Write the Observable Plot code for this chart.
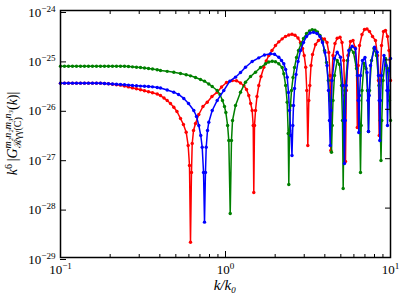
<!DOCTYPE html>
<html><head><meta charset="utf-8">
<script src="https://cdn.jsdelivr.net/npm/d3@7"></script>
<script src="https://cdn.jsdelivr.net/npm/@observablehq/plot@0.6"></script>
<style>html,body{margin:0;padding:0;background:#fff;}#chart{width:403px;height:297px;}</style>
</head><body><div id="chart"></div>
<script>
// [k/k0, k^6 |G|]
const red = [
[0.1,3.38e-26],[0.1057,3.38e-26],[0.1118,3.38e-26],[0.1182,3.38e-26],[0.125,3.38e-26],[0.1322,3.38e-26],[0.1397,3.38e-26],[0.1477,3.38e-26],[0.1562,3.38e-26],[0.1652,3.38e-26],[0.1747,3.38e-26],[0.1847,3.33e-26],[0.1953,3.28e-26],[0.2065,3.22e-26],[0.2184,3.15e-26],[0.231,3.08e-26],[0.2442,2.97e-26],[0.2582,2.84e-26],[0.2731,2.71e-26],[0.2888,2.60e-26],[0.3054,2.48e-26],
[0.3229,2.37e-26],[0.3415,2.26e-26],[0.3611,2.16e-26],[0.3856,2.04e-26],[0.4037,1.90e-26],[0.424,1.69e-26],[0.4432,1.51e-26],[0.464,1.31e-26],[0.4861,1.10e-26],[0.508,9.02e-27],[0.5337,6.52e-27],[0.556,4.92e-27],[0.5777,3.44e-27],[0.594,1.85e-27],[0.605,7.28e-28],[0.6136,2.04e-29],[0.622,5.26e-28],[0.6284,2.03e-27],[0.64,3.72e-27],[0.658,5.16e-27],[0.689,7.85e-27],[0.73,1.14e-26],[0.775,1.39e-26],[0.828,1.82e-26],[0.891,2.22e-26],[0.946,2.82e-26],[1.014,3.49e-26],[1.098,3.83e-26],[1.166,3.78e-26],[1.233,3.41e-26],[1.291,3.03e-26],[1.341,2.52e-26],[1.384,1.90e-26],[1.421,1.31e-26],[1.451,9.46e-27],[1.472,4.70e-27],[1.484,2.07e-28],[1.499,4.70e-27],[1.52,9.46e-27],[1.552,1.82e-26],[1.591,3.03e-26],[1.641,4.61e-26],[1.707,7.11e-26],[1.765,9.51e-26],[1.83,1.23e-25],[1.913,1.55e-25],[2.009,1.95e-25],[2.104,2.32e-25],[2.206,2.67e-25],[2.31,2.98e-25],[2.419,3.19e-25],[2.529,3.30e-25],[2.638,3.15e-25],[2.751,2.78e-25],[2.848,2.25e-25],[2.93,1.70e-25],[2.999,1.23e-25],[3.063,7.11e-26],[3.11,2.40e-26],[3.154,1.85e-27],[3.198,1.51e-26],[3.243,3.03e-26],[3.298,7.71e-26],[3.368,1.29e-25],[3.512,2.05e-25],[3.661,2.47e-25],[3.818,2.71e-25],[3.981,2.65e-25],[4.123,2.25e-25],[4.228,1.41e-25],[4.299,4.83e-26],[4.346,1.47e-27],[4.402,3.83e-26],[4.482,1.23e-25],[4.609,2.15e-25],[4.753,2.75e-25],[4.943,2.88e-25],[5.083,2.25e-25],[5.205,9.72e-26],[5.284,1.90e-26],[5.337,8.78e-28],[5.397,2.40e-26],[5.526,1.23e-25],[5.722,2.36e-25],[5.926,2.47e-25],[6.094,1.78e-25],[6.223,7.71e-26],[6.293,4.28e-27],[6.372,7.71e-26],[6.488,1.95e-25],[6.718,3.27e-25],[6.955,4.12e-25],[7.204,4.22e-25],[7.46,3.76e-25],[7.78,2.98e-25],[8.111,2.47e-25],[8.34,1.23e-25],[8.458,3.83e-26],[8.541,2.95e-27],[8.639,3.83e-26],[8.82,1.95e-25],[9.07,3.76e-25],[9.326,3.94e-25],[9.59,2.98e-25],[9.793,1.55e-25],[10,3.83e-26]
];
const green = [
[0.1,7.45e-26],[0.1057,7.45e-26],[0.1118,7.45e-26],[0.1182,7.45e-26],[0.125,7.45e-26],[0.1322,7.45e-26],[0.1397,7.45e-26],[0.1477,7.45e-26],[0.1562,7.45e-26],[0.1652,7.45e-26],[0.1747,7.45e-26],[0.1847,7.45e-26],[0.1953,7.45e-26],[0.2065,7.45e-26],[0.2184,7.45e-26],[0.231,7.45e-26],[0.2442,7.45e-26],[0.2582,7.34e-26],[0.2731,7.24e-26],[0.2888,7.11e-26],[0.3054,7.01e-26],
[0.3229,6.86e-26],[0.3415,6.70e-26],[0.3611,6.55e-26],[0.3856,6.31e-26],[0.4037,6.10e-26],[0.4432,5.87e-26],[0.4861,5.64e-26],[0.5337,5.31e-26],[0.5777,4.99e-26],[0.6136,4.76e-26],[0.658,4.41e-26],[0.7055,4.01e-26],[0.7461,3.71e-26],[0.792,3.25e-26],[0.8307,2.90e-26],[0.8906,2.40e-26],[0.926,2.00e-26],[0.959,1.51e-26],[0.986,1.14e-26],[1.005,8.60e-27],[1.03,4.70e-27],[1.047,2.33e-27],[1.068,7.78e-29],[1.087,2.33e-27],[1.103,5.93e-27],[1.15,1.19e-26],[1.233,2.22e-26],[1.322,3.54e-26],[1.418,4.61e-26],[1.52,5.64e-26],[1.63,7.01e-26],[1.748,8.34e-26],[1.83,9.07e-26],[1.919,9.41e-26],[2.009,9.20e-26],[2.104,8.34e-26],[2.206,7.01e-26],[2.256,5.24e-26],[2.316,3.03e-26],[2.365,1.39e-26],[2.399,3.24e-27],[2.419,3.01e-28],[2.443,3.72e-27],[2.477,1.19e-26],[2.512,2.40e-26],[2.566,4.41e-26],[2.62,7.01e-26],[2.694,1.12e-25],[2.77,1.55e-25],[2.868,2.10e-25],[2.97,2.71e-25],[3.097,3.42e-25],[3.229,3.85e-25],[3.354,4.07e-25],[3.486,3.97e-25],[3.611,3.67e-25],[3.738,3.12e-25],[3.872,2.36e-25],[3.981,1.55e-25],[4.094,8.86e-26],[4.198,3.83e-26],[4.299,1.51e-26],[4.346,4.70e-27],[4.389,1.35e-27],[4.433,4.70e-27],[4.482,1.51e-26],[4.577,4.83e-26],[4.753,9.72e-26],[4.909,8.07e-26],[5.047,3.03e-26],[5.118,5.93e-27],[5.167,2.49e-28],[5.22,5.93e-27],[5.299,2.40e-26],[5.488,9.72e-26],[5.722,1.70e-25],[5.968,1.41e-25],[6.223,6.70e-26],[6.443,1.51e-26],[6.515,4.70e-27],[6.579,5.26e-28],[6.643,4.70e-27],[6.718,2.40e-26],[6.907,8.45e-26],[7.103,6.70e-26],[7.254,2.40e-26],[7.356,3.55e-27],[7.46,2.40e-26],[7.673,9.72e-26],[7.943,1.70e-25],[8.225,1.23e-25],[8.517,3.03e-26],[8.662,5.93e-27],[8.758,9.20e-28],[8.857,5.93e-27],[9.006,3.83e-26],[9.326,1.07e-25],[9.59,6.70e-26],[9.861,1.51e-26],[10,5.93e-27]
];
const blue = [
[0.1,3.38e-26],[0.1057,3.38e-26],[0.1118,3.38e-26],[0.1182,3.38e-26],[0.125,3.38e-26],[0.1322,3.38e-26],[0.1397,3.38e-26],[0.1477,3.38e-26],[0.1562,3.38e-26],[0.1652,3.38e-26],[0.1747,3.38e-26],[0.1847,3.34e-26],[0.1953,3.30e-26],[0.2065,3.25e-26],[0.2184,3.21e-26],[0.231,3.18e-26],[0.2442,3.13e-26],[0.2582,3.09e-26],[0.2731,3.03e-26],[0.2888,2.99e-26],[0.3054,2.95e-26],
[0.3229,2.92e-26],[0.3415,2.90e-26],[0.3611,2.85e-26],[0.3856,2.77e-26],[0.4037,2.70e-26],[0.4432,2.46e-26],[0.4861,2.22e-26],[0.519,2.00e-26],[0.5587,1.66e-26],[0.597,1.31e-26],[0.6426,9.46e-27],[0.667,7.14e-27],[0.689,4.70e-27],[0.708,2.95e-27],[0.7225,1.71e-27],[0.736,5.26e-28],[0.7461,5.19e-29],[0.756,5.26e-28],[0.764,1.71e-27],[0.778,3.72e-27],[0.792,5.48e-27],[0.8307,9.46e-27],[0.8906,1.51e-26],[0.9766,2.40e-26],[1.062,3.71e-26],[1.15,4.47e-26],[1.233,5.56e-26],[1.322,7.11e-26],[1.451,9.29e-26],[1.591,1.10e-25],[1.723,1.26e-25],[1.874,1.33e-25],[1.982,1.30e-25],[2.104,1.13e-25],[2.185,9.72e-26],[2.256,8.34e-26],[2.316,6.39e-26],[2.365,4.47e-26],[2.409,2.19e-26],[2.443,9.46e-27],[2.495,2.95e-27],[2.529,1.16e-27],[2.558,4.70e-27],[2.583,1.19e-26],[2.62,2.64e-26],[2.675,5.06e-26],[2.751,9.29e-26],[2.848,1.55e-25],[2.97,2.25e-25],[3.097,2.98e-25],[3.252,3.50e-25],[3.415,3.64e-25],[3.585,3.42e-25],[3.738,2.98e-25],[3.872,2.25e-25],[4.009,1.41e-25],[4.123,7.71e-26],[4.21,2.40e-26],[4.268,5.93e-27],[4.311,1.85e-27],[4.359,9.46e-27],[4.42,3.83e-26],[4.577,1.07e-25],[4.753,1.43e-25],[4.977,1.13e-25],[5.139,3.03e-26],[5.212,5.93e-27],[5.262,8.00e-28],[5.315,5.93e-27],[5.389,3.03e-26],[5.588,1.55e-25],[5.861,1.89e-25],[6.137,1.68e-25],[6.31,4.83e-26],[6.38,1.51e-26],[6.425,3.39e-27],[6.488,1.90e-26],[6.579,4.83e-26],[6.764,9.72e-26],[7.005,1.12e-25],[7.204,5.56e-26],[7.305,1.51e-26],[7.356,3.55e-27],[7.429,1.90e-26],[7.565,7.71e-26],[7.999,1.81e-25],[8.305,1.43e-25],[8.458,4.83e-26],[8.541,1.51e-26],[8.613,2.33e-27],[8.697,1.51e-26],[8.82,4.83e-26],[9.133,1.23e-25],[9.391,7.71e-26],[9.524,2.40e-26],[9.59,4.70e-27],[9.683,2.40e-26],[9.793,6.10e-26],[10,1.07e-25]
];
const seriesColors = {red: "#ff0000", green: "#008000", blue: "#0000ff"};
const xMajor = [0.1, 1, 10];
const xMajorExp = ["\u22121", "0", "1"];
const xMinor = [0.2,0.3,0.4,0.5,0.6,0.7,0.8,0.9,2,3,4,5,6,7,8,9];
const yMajor = [1e-29, 1e-28, 1e-27, 1e-26, 1e-25, 1e-24];
const yMajorExp = ["\u221229", "\u221228", "\u221227", "\u221226", "\u221225", "\u221224"];
const xTitle = "k/k\u2080";

const FONT = "'Liberation Serif', 'DejaVu Serif', serif";
const W = 403, H = 297, ML = 60, MR = 13, MT = 10, MB = 40;

function rows(arr) { return arr.map(([k, g]) => ({k, g})); }
const order = [["red", red], ["green", green], ["blue", blue]];
const marks = [];
for (const [name, arr] of order) {
  const d = rows(arr);
  marks.push(Plot.line(d, {x: "k", y: "g", stroke: seriesColors[name], strokeWidth: 1.5}));
  marks.push(Plot.dot(d, {x: "k", y: "g", fill: seriesColors[name], r: 1.7, stroke: "none"}));
}
const fmtX = (d) => "10^" + xMajorExp[xMajor.findIndex(v => Math.abs(v - d) < 1e-9 * v)];
const fmtY = (d) => "10^" + yMajorExp[yMajor.findIndex(v => Math.abs(v - d) < 1e-6 * v)];

const chart = Plot.plot({
  width: W, height: H,
  marginLeft: ML, marginRight: MR, marginTop: MT, marginBottom: MB,
  style: {fontFamily: FONT, fontSize: "13px", color: "black", background: "white", overflow: "visible"},
  x: {type: "log", domain: [0.1, 10], label: null},
  y: {type: "log", domain: [1e-29, 1e-24], label: null},
  marks: [
    ...marks,
    Plot.axisX({ticks: xMajor, tickSize: -6, tickPadding: 13, tickFormat: fmtX, label: null}),
    Plot.axisX({ticks: xMinor, tickSize: -3, tickFormat: () => "", label: null}),
    Plot.axisX({anchor: "top", ticks: xMajor, tickSize: -6, tickFormat: () => "", label: null}),
    Plot.axisX({anchor: "top", ticks: xMinor, tickSize: -3, tickFormat: () => "", label: null}),
    Plot.axisY({ticks: yMajor, tickSize: -6, tickPadding: 11, dy: 2, tickFormat: fmtY, label: null}),
    Plot.axisY({anchor: "right", ticks: yMajor, tickSize: -6, tickFormat: () => "", label: null}),
    Plot.frame({stroke: "black", strokeWidth: 1.5})
  ]
});
document.getElementById("chart").appendChild(chart);

const svg = d3.select(chart);
// superscript exponents on tick labels
svg.selectAll('g[aria-label$="tick label"] text').each(function () {
  const t = this.textContent;
  if (!t.includes("^")) return;
  const [b, e] = t.split("^");
  const s = d3.select(this);
  s.text(null);
  s.append("tspan").text(b);
  s.append("tspan").attr("dy", "-0.55em").attr("font-size", "0.7em").text(e);
});

// x label
svg.append("text").attr("x", (ML + W - MR) / 2).attr("y", 290)
  .attr("text-anchor", "middle").style("font-family", FONT).style("font-size", "15px")
  .style("font-style", "italic").text(xTitle);

// y label
const yl = svg.append("text").attr("transform", `translate(17,${(MT + H - MB) / 2}) rotate(-90)`)
  .attr("text-anchor", "middle").style("font-family", FONT).style("font-size", "14px");
yl.append("tspan").attr("font-style", "italic").text("k");
yl.append("tspan").attr("font-size", "10px").attr("dy", -5).text("6");
yl.append("tspan").attr("dy", 5).text("\u2009|");
yl.append("tspan").attr("font-style", "italic").text("G");
const sup = yl.append("tspan").attr("font-size", "10px").attr("font-style", "italic").attr("dy", -6).text("m\u2082n\u2082m\u2083n\u2083");
const supW = sup.node().getComputedTextLength();
const sub = yl.append("tspan").attr("font-size", "10px").attr("dx", -supW).attr("dy", 10).text("\u211B\u03B3\u03B3(C)");
const subW = sub.node().getComputedTextLength();
yl.append("tspan").attr("dx", Math.max(0, supW - subW)).attr("dy", -4).text("(");
yl.append("tspan").attr("font-style", "italic").text("k");
yl.append("tspan").text(")|");
</script></body></html>
